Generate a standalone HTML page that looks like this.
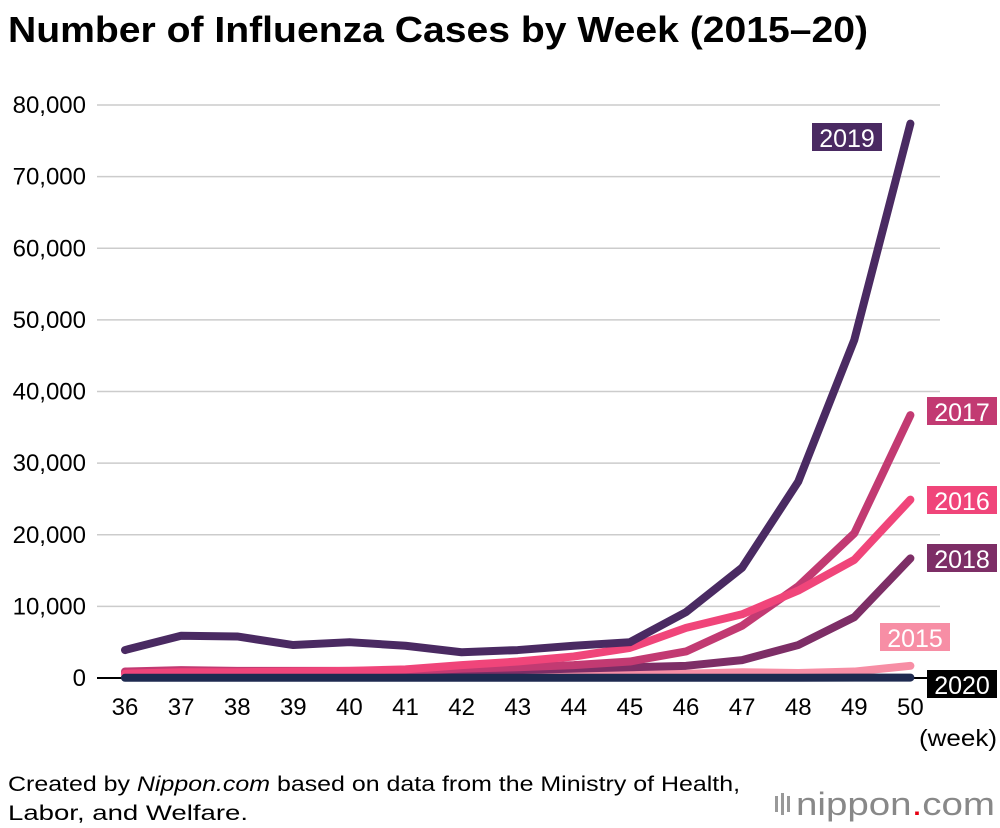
<!DOCTYPE html>
<html><head><meta charset="utf-8"><style>
body{margin:0;background:#fff;font-family:"Liberation Sans",Arial,sans-serif;}
#wrap{position:relative;width:1000px;height:828px;overflow:hidden;}
</style></head><body>
<div id="wrap">
<svg id="chart" width="1000" height="828">
<text x="8" y="42" font-size="36" font-weight="bold" fill="#000" textLength="860" lengthAdjust="spacingAndGlyphs">Number of Influenza Cases by Week (2015–20)</text>
<g id="grid"></g><g id="lines"></g><g id="labels"></g>
<text x="919" y="746" font-size="23" textLength="78" lengthAdjust="spacingAndGlyphs">(week)</text>
<text x="8" y="791" font-size="21" textLength="732" lengthAdjust="spacingAndGlyphs">Created by <tspan font-style="italic">Nippon.com</tspan> based on data from the Ministry of Health,</text>
<text x="8" y="820" font-size="21" textLength="240" lengthAdjust="spacingAndGlyphs">Labor, and Welfare.</text>
<g>
<rect x="775" y="796" width="3" height="16" fill="#999"/><rect x="781" y="793" width="3" height="22" fill="#999"/><rect x="787" y="796" width="3" height="16" fill="#999"/>
<text x="796" y="815" font-size="32" fill="#888" textLength="199" lengthAdjust="spacingAndGlyphs">nippon<tspan fill="#e60012">.</tspan>com</text></g>
</svg>
<script>
const weeks=[36,37,38,39,40,41,42,43,44,45,46,47,48,49,50];
const yTicks=[0,10000,20000,30000,40000,50000,60000,70000,80000];
const s2015=[200,200,200,200,200,200,300,400,500,500,600,800,700,900,1700];
const s2016=[600,800,800,900,1000,1200,1800,2300,3000,4200,7000,8900,12200,16500,24900];
const s2017=[900,1100,1000,1000,1000,1000,1300,1500,1800,2300,3700,7300,12800,20200,36700];
const s2018=[700,800,700,800,900,900,1000,1100,1300,1500,1700,2500,4600,8500,16700];
const s2019=[3900,5900,5800,4600,5000,4500,3600,3900,4500,5000,9200,15400,27400,47200,77400];
const s2020=[30,30,30,30,30,30,30,30,30,30,30,40,40,50,60];
const NS="http://www.w3.org/2000/svg";
const xS=w=>125+(w-36)*56.1;
const yS=v=>678-v/80000*573;
function mk(t,a,p){const e=document.createElementNS(NS,t);for(const k in a)e.setAttribute(k,a[k]);p.appendChild(e);return e;}
const grid=document.getElementById('grid');
yTicks.forEach(v=>{
 const l=mk('line',{x1:97,x2:940,y1:yS(v),y2:yS(v),stroke:v===0?'#000':'#ccc','stroke-width':v===0?2:1.5},grid);
 
 
 const t=mk('text',{x:86,y:yS(v)+8,'text-anchor':'end','font-size':24},grid);
 t.textContent=v.toLocaleString('en-US');
 
 
});
weeks.forEach(w=>{
 const t=mk('text',{x:xS(w),y:715,'text-anchor':'middle','font-size':24},grid);
 t.textContent=w;
 
 
});
const series=[
 ['2015',s2015,'#f78ea5',880,623],
 ['2018',s2018,'#7d2e66',927,544],
 ['2017',s2017,'#c23a72',927,397],
 ['2016',s2016,'#f0457a',927,486],
 ['2019',s2019,'#4a2a62',812,123],
 ['2020',s2020,'#1e2a50',927,670]];
const lines=document.getElementById('lines'),labels=document.getElementById('labels');
series.forEach(([n,d,c,lx,ly])=>{
 const p=mk('polyline',{points:d.map((v,i)=>xS(weeks[i])+','+yS(v)).join(' '),fill:'none',stroke:c,'stroke-width':8,'stroke-linejoin':'round','stroke-linecap':'round'},lines);
 
 
 const r=mk('rect',{x:lx,y:ly,width:70,height:28,fill:n==='2020'?'#000':c},labels);
 
 
 const t=mk('text',{x:lx+35,y:ly+24,'text-anchor':'middle','font-size':25,fill:'#fff'},labels);
 t.textContent=n;
 
 
});
</script>
</div></body></html>
